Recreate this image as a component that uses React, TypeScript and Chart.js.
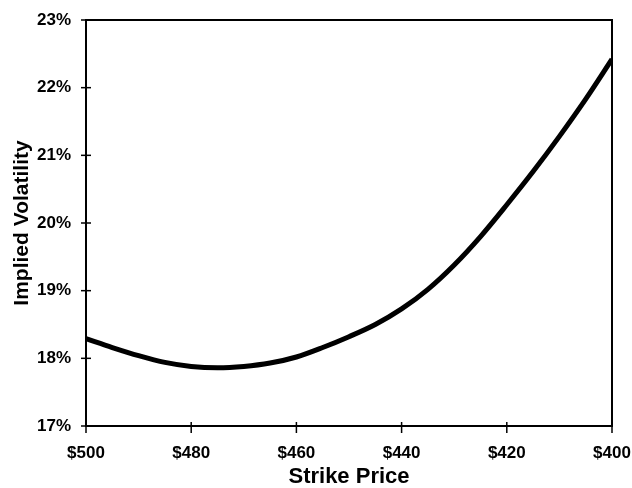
import React, { useEffect, useRef } from "react";
import { Chart, registerables } from "chart.js";

Chart.register(...registerables);

// Strike prices ($) and implied volatility (%)
const strikes = [500, 495, 490, 485, 480, 475, 470, 465, 460, 455, 450, 445, 440, 435, 430, 425, 420, 415, 410, 405, 400];
const impliedVol = [18.29, 18.16, 18.04, 17.94, 17.88, 17.86, 17.88, 17.93, 18.02, 18.16, 18.32, 18.5, 18.73, 19.02, 19.38, 19.8, 20.27, 20.76, 21.28, 21.83, 22.42];

const xTickValues = [500, 480, 460, 440, 420, 400];
const yTickValues = [17, 18, 19, 20, 21, 22, 23];

const FONT = "'Liberation Sans', Arial, Helvetica, sans-serif";

const framePlugin = {
  id: "frame",
  afterDraw(chart: any) {
    const { ctx, chartArea: a, scales } = chart;
    ctx.save();
    ctx.strokeStyle = "#000";
    ctx.lineWidth = 2;
    ctx.strokeRect(a.left, a.top, a.right - a.left, a.bottom - a.top);
    ctx.lineWidth = 1.5;
    for (const v of yTickValues) {
      const y = scales.y.getPixelForValue(v);
      ctx.beginPath();
      ctx.moveTo(a.left - 5, y);
      ctx.lineTo(a.left + 5, y);
      ctx.stroke();
    }
    for (const v of xTickValues) {
      const x = scales.x.getPixelForValue(v);
      ctx.beginPath();
      ctx.moveTo(x, a.bottom - 4);
      ctx.lineTo(x, a.bottom + 7);
      ctx.stroke();
    }
    ctx.restore();
  },
};

const zeroPadding = (s: any) => {
  s.paddingTop = 0;
  s.paddingBottom = 0;
  s.paddingLeft = 0;
  s.paddingRight = 0;
};

export default function App() {
  const ref = useRef<HTMLCanvasElement>(null);

  useEffect(() => {
    const canvas = ref.current;
    if (!canvas) return;
    const chart = new Chart(canvas, {
      type: "line",
      data: {
        datasets: [
          {
            data: strikes.map((s, i) => ({ x: s, y: impliedVol[i] })),
            borderColor: "#000",
            borderWidth: 5,
            pointRadius: 0,
            fill: false,
            cubicInterpolationMode: "monotone",
          },
        ],
      },
      options: {
        animation: false,
        responsive: false,
        devicePixelRatio: 1,
        layout: { padding: { top: 20, right: 20, left: 0, bottom: 0 } },
        plugins: {
          legend: { display: false },
          tooltip: { enabled: false },
        },
        scales: {
          x: {
            type: "linear",
            reverse: true,
            min: 400,
            max: 500,
            afterBuildTicks: (s: any) => {
              s.ticks = xTickValues.map((v) => ({ value: v }));
            },
            afterFit: (s: any) => {
              s.height = 62;
              zeroPadding(s);
            },
            grid: { display: false, drawTicks: false },
            border: { display: false },
            ticks: {
              padding: 17,
              maxRotation: 0,
              autoSkip: false,
              color: "#000",
              font: { family: FONT, size: 17, weight: "bold" },
              callback: (v: any) => "$" + v,
            },
            title: {
              display: true,
              text: "Strike Price",
              color: "#000",
              font: { family: FONT, size: 22, weight: "bold", lineHeight: 1 },
              padding: { top: 0, bottom: 0 },
            },
          },
          y: {
            type: "linear",
            min: 17,
            max: 23,
            afterBuildTicks: (s: any) => {
              s.ticks = yTickValues.map((v) => ({ value: v }));
            },
            afterFit: (s: any) => {
              s.width = 86;
              zeroPadding(s);
            },
            grid: { display: false, drawTicks: false },
            border: { display: false },
            ticks: {
              padding: 15,
              color: "#000",
              font: { family: FONT, size: 17, weight: "bold" },
              callback: (v: any) => v + "%",
            },
            title: {
              display: true,
              text: "Implied Volatility",
              color: "#000",
              font: { family: FONT, size: 21, weight: "bold", lineHeight: 1 },
              padding: { top: 12, bottom: 0 },
            },
          },
        },
      },
      plugins: [framePlugin],
    });
    return () => chart.destroy();
  }, []);

  return (
    <div style={{ position: "fixed", left: 0, top: 0, width: 632, height: 488, background: "#fff" }}>
      <canvas ref={ref} width={632} height={488} style={{ display: "block" }} />
    </div>
  );
}
